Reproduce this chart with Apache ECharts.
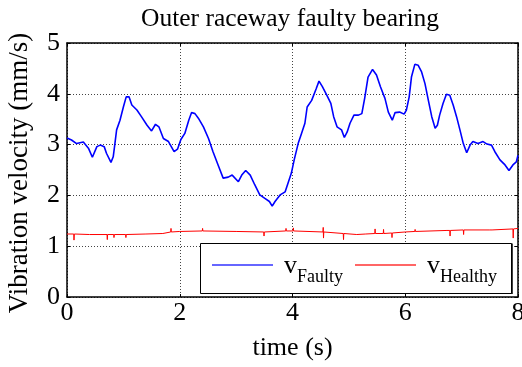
<!DOCTYPE html>
<html>
<head>
<meta charset="utf-8">
<script src="https://cdn.jsdelivr.net/npm/echarts@6/dist/echarts.min.js"></script>
<style>
  html, body { margin: 0; padding: 0; background: #fff; }
  #chart { width: 522px; height: 367px; }
</style>
</head>
<body>
<div id="chart"></div>
<script>
// Time axis ticks (s) and velocity axis ticks (mm/s)
const timeTicks = [0, 2, 4, 6, 8];
const velocityTicks = [0, 1, 2, 3, 4, 5];

// Faulty bearing: vibration velocity over time
const faultyTime = [
  0.00, 0.08, 0.17, 0.29, 0.38, 0.45, 0.53, 0.59, 0.66, 0.70, 0.78, 0.82, 0.85, 0.88, 0.94,
  1.00, 1.05, 1.10, 1.15, 1.24, 1.32, 1.42, 1.50, 1.57, 1.63, 1.71, 1.80, 1.90, 1.96,
  2.02, 2.09, 2.16, 2.21, 2.27, 2.33, 2.42, 2.51, 2.59, 2.68, 2.77, 2.86, 2.93,
  3.04, 3.10, 3.17, 3.25, 3.33, 3.42, 3.51, 3.59, 3.64, 3.69, 3.78, 3.87, 3.92, 3.98,
  4.03, 4.10, 4.16, 4.22, 4.26, 4.34, 4.42, 4.47, 4.53, 4.61, 4.68, 4.73, 4.79, 4.87, 4.92, 4.97,
  5.02, 5.09, 5.17, 5.23, 5.28, 5.34, 5.42, 5.49, 5.56, 5.64, 5.70, 5.77, 5.82, 5.90, 5.98,
  6.02, 6.07, 6.11, 6.17, 6.23, 6.29, 6.35, 6.41, 6.47, 6.53, 6.57, 6.61, 6.67, 6.73, 6.79, 6.85, 6.91, 6.97,
  7.03, 7.09, 7.15, 7.20, 7.29, 7.38, 7.45, 7.53, 7.59, 7.68, 7.77, 7.84, 7.91, 7.97, 8.00
];
const faultyVelocity = [
  3.13, 3.09, 3.02, 3.05, 2.93, 2.75, 2.96, 2.99, 2.96, 2.83, 2.65, 2.76, 3.02, 3.29, 3.48,
  3.74, 3.94, 3.94, 3.78, 3.68, 3.55, 3.38, 3.27, 3.40, 3.35, 3.12, 3.06, 2.86, 2.91,
  3.10, 3.22, 3.48, 3.63, 3.61, 3.52, 3.35, 3.12, 2.86, 2.60, 2.34, 2.36, 2.40,
  2.27, 2.40, 2.49, 2.40, 2.21, 2.01, 1.94, 1.88, 1.79, 1.88, 2.01, 2.07, 2.24, 2.44,
  2.70, 3.02, 3.22, 3.42, 3.74, 3.87, 4.10, 4.25, 4.14, 3.97, 3.81, 3.55, 3.35, 3.29, 3.14, 3.25,
  3.42, 3.58, 3.58, 3.61, 3.91, 4.33, 4.48, 4.37, 4.14, 3.91, 3.64, 3.48, 3.63, 3.64, 3.60,
  3.68, 3.94, 4.33, 4.58, 4.56, 4.43, 4.20, 3.87, 3.55, 3.32, 3.38, 3.58, 3.81, 3.99, 3.97, 3.78, 3.55, 3.29,
  3.02, 2.84, 2.99, 3.06, 3.02, 3.06, 3.01, 2.99, 2.86, 2.70, 2.60, 2.49, 2.60, 2.66, 2.79
];

// Healthy bearing: nearly flat level with short spikes
const healthyTime = [
  0.00, 0.12, 0.124, 0.13, 0.40, 0.71, 0.715, 0.72, 0.83, 0.833, 0.84, 1.04, 1.045, 1.05,
  1.40, 1.70, 1.84, 1.845, 1.85, 2.00, 2.40, 2.405, 2.41, 3.00, 3.49, 3.495, 3.50,
  3.88, 3.885, 3.89, 4.01, 4.015, 4.02, 4.54, 4.545, 4.55, 4.555, 4.90, 4.905, 4.91,
  5.14, 5.30, 5.46, 5.465, 5.47, 5.61, 5.615, 5.62, 5.76, 5.765, 5.77,
  6.00, 6.17, 6.175, 6.18, 6.74, 6.79, 6.795, 6.80, 7.03, 7.035, 7.04,
  7.50, 7.53, 7.535, 7.54, 7.91, 7.915, 7.92, 8.00
];
const healthyVelocity = [
  1.24, 1.24, 1.12, 1.24, 1.23, 1.23, 1.13, 1.23, 1.23, 1.17, 1.23, 1.23, 1.17, 1.23,
  1.24, 1.25, 1.28, 1.35, 1.28, 1.29, 1.30, 1.35, 1.30, 1.29, 1.28, 1.20, 1.28,
  1.30, 1.35, 1.30, 1.30, 1.36, 1.30, 1.28, 1.37, 1.16, 1.28, 1.25, 1.13, 1.25,
  1.23, 1.24, 1.25, 1.34, 1.25, 1.25, 1.33, 1.25, 1.26, 1.17, 1.26,
  1.28, 1.29, 1.33, 1.29, 1.31, 1.31, 1.20, 1.31, 1.32, 1.23, 1.32,
  1.32, 1.32, 1.35, 1.32, 1.34, 1.16, 1.34, 1.35
];

const seriesNames = ['Faulty', 'Healthy'];
const titleText = 'Outer raceway faulty bearing';
const xName = 'time (s)';
const yName = 'Vibration velocity (mm/s)';

const zip = (xs, ys) => xs.map((x, i) => [x, ys[i]]);
const FONT = '"Liberation Serif", "Times New Roman", serif';

const chart = echarts.init(document.getElementById('chart'), null, { renderer: 'canvas' });

const tickStyle = { inside: true, length: 3, lineStyle: { color: '#000', width: 1 } };
const splitStyle = { show: true, lineStyle: { color: '#444', type: [1, 2], width: 1 } };

chart.setOption({
  animation: false,
  backgroundColor: '#fff',
  title: {
    text: titleText,
    left: 285, top: 1, textAlign: 'center',
    textStyle: { fontFamily: FONT, fontSize: 25.5, fontWeight: 'normal', color: '#000' }
  },
  grid: {
    left: 67, top: 43, width: 451, height: 254,
    containLabel: false, outerBoundsMode: 'none'
  },
  xAxis: [{
    type: 'value', min: timeTicks[0], max: timeTicks[timeTicks.length - 1], interval: 2,
    name: xName, nameLocation: 'middle', nameGap: 38,
    nameTextStyle: { fontFamily: FONT, fontSize: 26, color: '#000' },
    axisLine: { show: true, onZero: false, lineStyle: { color: '#000', width: 1.5 } },
    axisTick: tickStyle,
    axisLabel: { fontFamily: FONT, fontSize: 26, color: '#000', margin: 3 },
    splitLine: splitStyle
  }, {
    type: 'value', position: 'top', min: 0, max: 8, interval: 2,
    axisLine: { show: true, onZero: false, lineStyle: { color: '#000', width: 1.5 } },
    axisTick: tickStyle, axisLabel: { show: false }, splitLine: { show: false }
  }],
  yAxis: [{
    type: 'value', min: velocityTicks[0], max: velocityTicks[velocityTicks.length - 1], interval: 1,
    name: yName, nameLocation: 'middle', nameGap: 34,
    nameTextStyle: { fontFamily: FONT, fontSize: 27, color: '#000', padding: [0, 6, 0, 0] },
    axisLine: { show: true, onZero: false, lineStyle: { color: '#000', width: 1.5 } },
    axisTick: tickStyle,
    axisLabel: { fontFamily: FONT, fontSize: 26, color: '#000', margin: 7 },
    splitLine: splitStyle
  }, {
    type: 'value', position: 'right', min: 0, max: 5, interval: 1,
    axisLine: { show: true, onZero: false, lineStyle: { color: '#000', width: 1.5 } },
    axisTick: tickStyle, axisLabel: { show: false }, splitLine: { show: false }
  }],
  legend: {
    left: 212, top: 253, z: 10,
    itemWidth: 61, itemHeight: 2, itemGap: 12, icon: 'rect',
    padding: 0,
    data: seriesNames,
    formatter: name => '{v|v}{s|' + name + '}',
    textStyle: {
      color: '#000',
      rich: {
        v: { fontFamily: FONT, fontSize: 26, lineHeight: 24, verticalAlign: 'top', padding: [0, 0, 0, 6] },
        s: { fontFamily: FONT, fontSize: 18, lineHeight: 18, verticalAlign: 'top', padding: [15, 0, 0, 0] }
      }
    }
  },
  graphic: [{
    type: 'rect', z: 5,
    shape: { x: 200.5, y: 243.5, width: 311, height: 50 },
    style: { fill: '#fff', stroke: '#000', lineWidth: 1 }
  }, {
    type: 'line', z: 6,
    shape: { x1: 512, y1: 243.5, x2: 512, y2: 294 },
    style: { stroke: '#000', lineWidth: 1.5 }
  }],
  series: [{
    name: seriesNames[0], type: 'line', data: zip(faultyTime, faultyVelocity),
    symbol: 'none', lineStyle: { color: '#0000ff', width: 1.6 }, itemStyle: { color: '#6666ff' }, z: 3
  }, {
    name: seriesNames[1], type: 'line', data: zip(healthyTime, healthyVelocity),
    symbol: 'none', lineStyle: { color: '#ff0000', width: 1 }, itemStyle: { color: '#ff6666' }, z: 3
  }]
});
</script>
</body>
</html>
